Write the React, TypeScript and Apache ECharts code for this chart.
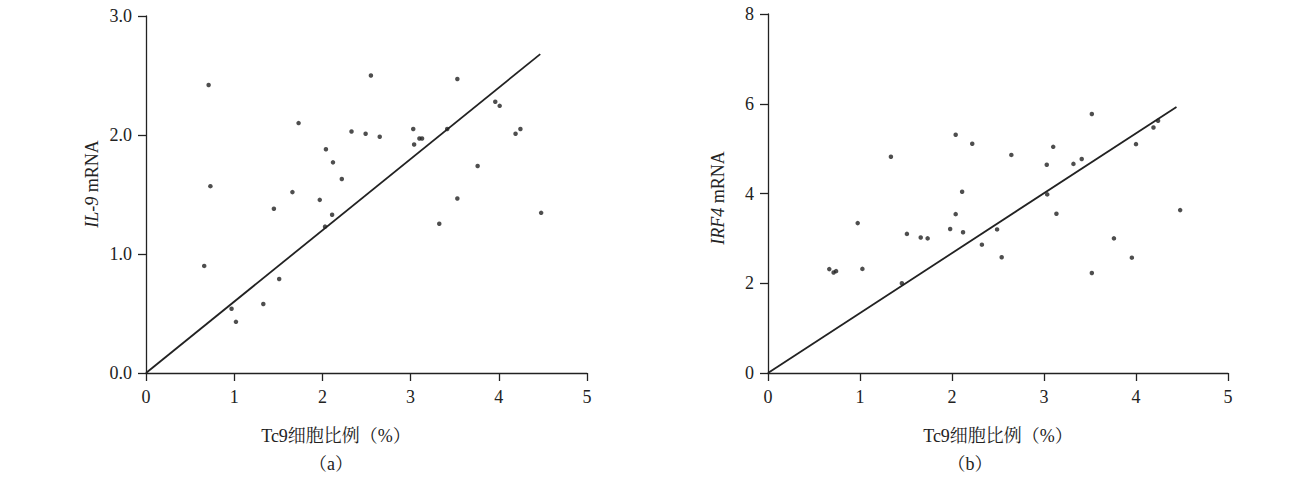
import React, { useEffect, useRef } from "react";
import * as echarts from "echarts";

// Panel (a): Tc9 cell proportion (%) vs IL-9 mRNA
const pointsA: [number, number][] = [
  [0.66, 0.9], [0.71, 2.42], [0.73, 1.57], [0.97, 0.54], [1.02, 0.43],
  [1.33, 0.58], [1.45, 1.38], [1.51, 0.79], [1.66, 1.52], [1.73, 2.1],
  [1.97, 1.455], [2.03, 1.23], [2.04, 1.88], [2.11, 1.33], [2.12, 1.77],
  [2.22, 1.63], [2.33, 2.03], [2.49, 2.01], [2.55, 2.5], [2.65, 1.985],
  [3.03, 2.05], [3.04, 1.92], [3.1, 1.97], [3.13, 1.97], [3.325, 1.254],
  [3.415, 2.05], [3.53, 2.47], [3.53, 1.466], [3.76, 1.74], [3.96, 2.28],
  [4.01, 2.245], [4.19, 2.01], [4.245, 2.05], [4.48, 1.346],
];
const fitA: [number, number][] = [[0, 0], [4.47, 2.68]];

// Panel (b): Tc9 cell proportion (%) vs IRF4 mRNA
const pointsB: [number, number][] = [
  [0.666, 2.315], [0.713, 2.24], [0.74, 2.27], [0.975, 3.34], [1.026, 2.32],
  [1.336, 4.82], [1.455, 2.0], [1.51, 3.1], [1.66, 3.02], [1.735, 3.0],
  [1.98, 3.21], [2.04, 5.31], [2.04, 3.54], [2.11, 4.04], [2.12, 3.135],
  [2.22, 5.11], [2.325, 2.86], [2.49, 3.2], [2.54, 2.58], [2.645, 4.86],
  [3.03, 4.64], [3.035, 3.98], [3.1, 5.04], [3.135, 3.55], [3.32, 4.66],
  [3.41, 4.77], [3.52, 5.77], [3.52, 2.23], [3.76, 3.0], [3.955, 2.57],
  [4.0, 5.1], [4.19, 5.47], [4.24, 5.62], [4.48, 3.63],
];
const fitB: [number, number][] = [[0, 0], [4.44, 5.93]];

const xTicks = [0, 1, 2, 3, 4, 5];
const yTicksA = ["0.0", "1.0", "2.0", "3.0"];
const yTicksB = ["0", "2", "4", "6", "8"];

const xName = "Tc9细胞比例（%）";
const yNameA = ["IL-9", " mRNA"];
const yNameB = ["IRF4", " mRNA"];
const captions = ["（a）", "（b）"];

const SERIF = "'Liberation Serif', 'Times New Roman', 'Noto Serif CJK SC', 'Noto Sans CJK SC', serif";
const INK = "#222";

export default function App() {
  const ref = useRef<HTMLDivElement>(null);
  useEffect(() => {
    if (!ref.current) return;
    const chart = echarts.init(ref.current, undefined, { renderer: "svg" });
    const axisCommon = {
      axisLine: { show: true, lineStyle: { color: INK, width: 1.3 } },
      axisTick: { show: true, inside: false, length: 8, lineStyle: { color: INK, width: 1.3 } },
      splitLine: { show: false },
      axisLabel: { color: INK, fontFamily: SERIF, fontSize: 18 },
    };
    const xAxisFor = (gi: number) => ({
      type: "value",
      gridIndex: gi,
      min: xTicks[0],
      max: xTicks[xTicks.length - 1],
      interval: 1,
      ...axisCommon,
      axisLabel: { ...axisCommon.axisLabel, margin: 15 },
    });
    const scatterStyle = { color: INK };
    const lineStyle = { color: INK, width: 1.8 };
    const yNameText = (x: number, y: number, parts: string[]) => ({
      type: "text",
      x,
      y,
      rotation: Math.PI / 2,
      style: {
        text: `{i|${parts[0]}}${parts[1]}`,
        rich: {
          i: { fontStyle: "italic", fontFamily: SERIF, fontSize: 18, fill: INK },
        },
        fontFamily: SERIF,
        fontSize: 18,
        fill: INK,
        align: "center",
        verticalAlign: "middle",
      },
    });
    const plainText = (x: number, y: number, text: string) => ({
      type: "text",
      x,
      y,
      style: {
        text,
        fontFamily: SERIF,
        fontSize: 18,
        fill: INK,
        align: "center",
        verticalAlign: "middle",
      },
    });
    chart.setOption({
      animation: false,
      backgroundColor: "#fff",
      grid: [
        { left: 146, top: 16, width: 441, height: 357 },
        { left: 768, top: 14, width: 460, height: 359 },
      ],
      xAxis: [xAxisFor(0), xAxisFor(1)],
      yAxis: [
        {
          type: "value",
          gridIndex: 0,
          min: 0,
          max: 3,
          interval: 1,
          ...axisCommon,
          axisLabel: {
            ...axisCommon.axisLabel,
            margin: 14,
            formatter: (v: number) => yTicksA[Math.round(v)] ?? "",
          },
        },
        {
          type: "value",
          gridIndex: 1,
          min: 0,
          max: 8,
          interval: 2,
          ...axisCommon,
          axisLabel: {
            ...axisCommon.axisLabel,
            margin: 14,
            formatter: (v: number) => yTicksB[Math.round(v / 2)] ?? "",
          },
        },
      ],
      series: [
        {
          type: "scatter",
          xAxisIndex: 0,
          yAxisIndex: 0,
          data: pointsA,
          symbol: "circle",
          symbolSize: 4.5,
          itemStyle: scatterStyle,
        },
        {
          type: "line",
          xAxisIndex: 0,
          yAxisIndex: 0,
          data: fitA,
          symbol: "none",
          lineStyle,
        },
        {
          type: "scatter",
          xAxisIndex: 1,
          yAxisIndex: 1,
          data: pointsB,
          symbol: "circle",
          symbolSize: 4.5,
          itemStyle: scatterStyle,
        },
        {
          type: "line",
          xAxisIndex: 1,
          yAxisIndex: 1,
          data: fitB,
          symbol: "none",
          lineStyle,
        },
      ],
      graphic: [
        yNameText(92, 184, yNameA),
        yNameText(718, 198, yNameB),
        plainText(336, 436, xName),
        plainText(998, 436, xName),
        plainText(331, 464, captions[0]),
        plainText(970, 464, captions[1]),
      ],
    });
    return () => chart.dispose();
  }, []);
  return (
    <div
      ref={ref}
      style={{ position: "absolute", left: 0, top: 0, width: 1301, height: 477 }}
    />
  );
}
